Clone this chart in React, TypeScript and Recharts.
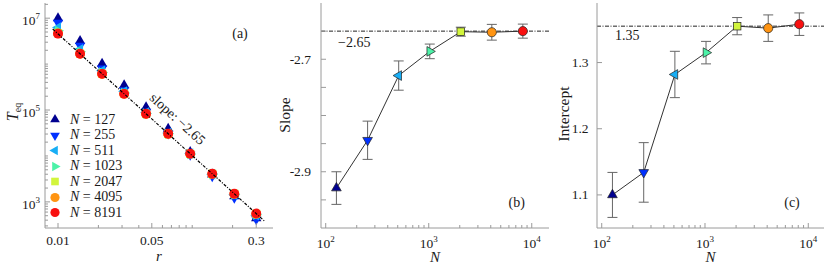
import React from 'react';
import { ComposedChart, Scatter, Line, XAxis, YAxis, ErrorBar, ReferenceLine, Legend } from 'recharts';

// system sizes and marker styles
const sizes = [127, 255, 511, 1023, 2047, 4095, 8191];
const colors = ['#000090', '#0030ff', '#18aef5', '#4cf2a8', '#d2f53c', '#ff9412', '#f81010'];
const kinds = ['up', 'down', 'left', 'right', 'square', 'circle', 'circle'];

// panel (a): T_eq vs r
const rValues = [0.01, 0.0146, 0.0213, 0.0311, 0.0453, 0.0662, 0.0966, 0.141, 0.206, 0.3];
const teq127 = [1.0e7, 3.2e6, 1.02e6, 3.45e5, 1.15e5, 3.9e4, 1.22e4, 3.95e3, 1.32e3, 440];
const teq255 = [8.0e6, 2.5e6, 8.0e5, 2.7e5, 9.2e4, 3.1e4, 1.06e4, 3.6e3, 1.23e3, 420];
const teq511 = [6.3e6, 2.1e6, 7.2e5, 2.55e5, 8.9e4, 3.15e4, 1.13e4, 4.0e3, 1.43e3, 510];
const teq1023 = [5.3e6, 1.85e6, 6.6e5, 2.35e5, 8.4e4, 3.05e4, 1.1e4, 4.0e3, 1.45e3, 525];
const teq2047 = [4.75e6, 1.7e6, 6.2e5, 2.27e5, 8.3e4, 3.03e4, 1.11e4, 4.08e3, 1.5e3, 550];
const teq4095 = [4.65e6, 1.68e6, 6.1e5, 2.24e5, 8.2e4, 3.02e4, 1.11e4, 4.06e3, 1.49e3, 548];
const teq8191 = [4.6e6, 1.68e6, 6.15e5, 2.25e5, 8.3e4, 3.04e4, 1.12e4, 4.1e3, 1.51e3, 560];
const teqSeries = [teq127, teq255, teq511, teq1023, teq2047, teq4095, teq8191];
const fitR = [0.00913, 0.349];
const fitT = [5.8e6, 372];

// panel (b) and (c): fitted slope / intercept vs N
const slopes = [-2.929, -2.844, -2.729, -2.686, -2.651, -2.652, -2.65];
const slopeErr = [0.029, 0.034, 0.026, 0.013, 0.008, 0.014, 0.0125];
const intercepts = [1.1, 1.134, 1.282, 1.315, 1.355, 1.352, 1.358];
const interceptErr = [0.034, 0.045, 0.035, 0.017, 0.013, 0.02, 0.017];

// ticks
const rTicks = [0.01, 0.02, 0.03, 0.04, 0.05, 0.06, 0.07, 0.08, 0.09, 0.1, 0.2, 0.3];
const rLabels = [0.01, 0.05, 0.3];
const teqTicks = [
  300, 400, 500, 600, 700, 800, 900,
  1e3, 2e3, 3e3, 4e3, 5e3, 6e3, 7e3, 8e3, 9e3,
  1e4, 2e4, 3e4, 4e4, 5e4, 6e4, 7e4, 8e4, 9e4,
  1e5, 2e5, 3e5, 4e5, 5e5, 6e5, 7e5, 8e5, 9e5,
  1e6, 2e6, 3e6, 4e6, 5e6, 6e6, 7e6, 8e6, 9e6,
  1e7, 2e7,
];
const teqLabels = [1e3, 1e5, 1e7];
const nTicks = [100, 200, 300, 400, 500, 600, 700, 800, 900, 1000, 2000, 3000, 4000, 5000, 6000, 7000, 8000, 9000, 10000];
const nLabels = [100, 1000, 10000];
const slopeTicks = [-2.95, -2.9, -2.85, -2.8, -2.75, -2.7, -2.65];
const slopeLabels = [-2.9, -2.7];
const interceptTicks = [1.1, 1.2, 1.3];

const AXIS = '#9a9a9a';
const INK = '#1a1a1a';
const FONT = '"Liberation Serif", "DejaVu Serif", serif';
const serif = { fontFamily: FONT };

const Marker = ({ kind, cx, cy, s, fill, stroke }: any) => {
  const common = { fill, stroke: stroke || 'none', strokeWidth: stroke ? 0.7 : 0 };
  if (kind === 'circle') return <circle cx={cx} cy={cy} r={s * 0.82} {...common} />;
  if (kind === 'square') return <rect x={cx - s * 0.68} y={cy - s * 0.68} width={s * 1.36} height={s * 1.36} {...common} />;
  const pts: Record<string, number[][]> = {
    up: [[0, -1], [0.866, 0.5], [-0.866, 0.5]],
    down: [[0, 1], [0.866, -0.5], [-0.866, -0.5]],
    left: [[-1, 0], [0.5, 0.866], [0.5, -0.866]],
    right: [[1, 0], [-0.5, 0.866], [-0.5, -0.866]],
  };
  return <polygon points={pts[kind].map(([a, b]) => `${cx + a * s},${cy + b * s}`).join(' ')} {...common} />;
};

const pow10 = (v: number) => (
  <>
    <tspan>10</tspan>
    <tspan fontSize={9} dy={-6}>{Math.round(Math.log10(v))}</tspan>
  </>
);

const near = (list: number[], v: number) => list.some((t) => Math.abs(t - v) < 1e-9 * Math.max(1, Math.abs(t)));

const bottomTick = (labels: number[], fmt: (v: number) => any, dy: number) => (p: any) => {
  const v = p.payload.value;
  const major = near(labels, v);
  return (
    <g>
      <line x1={p.x} x2={p.x} y1={p.y} y2={p.y - (major ? 5 : 3)} stroke={AXIS} />
      {major && (
        <text x={p.x} y={p.y + dy} textAnchor="middle" fontSize={13.5} style={serif} fill={INK}>
          {fmt(v)}
        </text>
      )}
    </g>
  );
};

const topTick = (labels: number[]) => (p: any) => {
  const major = near(labels, p.payload.value);
  return <line x1={p.x} x2={p.x} y1={p.y} y2={p.y + (major ? 5 : 3)} stroke={AXIS} />;
};

const leftTick = (labels: number[], fmt: (v: number) => any, gap: number, dy: number) => (p: any) => {
  const v = p.payload.value;
  const major = near(labels, v);
  return (
    <g>
      <line x1={p.x} x2={p.x + (major ? 5 : 3)} y1={p.y} y2={p.y} stroke={AXIS} />
      {major && (
        <text x={p.x - gap} y={p.y + dy} textAnchor="end" fontSize={13.5} style={serif} fill={INK}>
          {fmt(v)}
        </text>
      )}
    </g>
  );
};

const rightTick = (labels: number[]) => (p: any) => {
  const major = near(labels, p.payload.value);
  return <line x1={p.x} x2={p.x - (major ? 5 : 3)} y1={p.y} y2={p.y} stroke={AXIS} />;
};

const LegendBox = () => (
  <div style={{ fontFamily: FONT, fontSize: 14, color: INK }}>
    {sizes.map((n, i) => (
      <div key={n} style={{ display: 'flex', alignItems: 'center', height: 15.5 }}>
        <svg width={16} height={15} style={{ display: 'block' }}>
          <Marker kind={kinds[i]} cx={8} cy={7.5} s={5.6} fill={colors[i]} />
        </svg>
        <span style={{ marginLeft: 7, whiteSpace: 'nowrap' }}>
          <i>N</i> = {n}
        </span>
      </div>
    ))}
  </div>
);

const PanelA = () => {
  const fitData = fitR.map((r, i) => ({ r, T: fitT[i] }));
  return (
    <ComposedChart width={280} height={267} margin={{ top: 3, right: 7, left: 0, bottom: 0 }}>
      <XAxis xAxisId="b" type="number" dataKey="r" scale="log" domain={[0.008, 0.4]} allowDataOverflow
        ticks={rTicks} interval={0} height={39} tickSize={0} tickMargin={0} tickLine={false}
        axisLine={{ stroke: AXIS }} tick={bottomTick(rLabels, (v) => String(v), 17)} />
      <XAxis xAxisId="t" orientation="top" type="number" dataKey="r" scale="log" domain={[0.008, 0.4]} allowDataOverflow
        ticks={rTicks} interval={0} height={0} tickSize={0} tickMargin={0} tickLine={false}
        axisLine={{ stroke: AXIS }} tick={topTick(rLabels)} />
      <YAxis yAxisId="l" type="number" dataKey="T" scale="log" domain={[270, 2.14e7]} allowDataOverflow
        ticks={teqTicks} interval={0} width={45} tickSize={0} tickMargin={0} tickLine={false}
        axisLine={{ stroke: AXIS }} tick={leftTick(teqLabels, pow10, 5, 7)} />
      <YAxis yAxisId="r" orientation="right" type="number" dataKey="T" scale="log" domain={[270, 2.14e7]} allowDataOverflow
        ticks={teqTicks} interval={0} width={0} tickSize={0} tickMargin={0} tickLine={false}
        axisLine={{ stroke: AXIS }} tick={rightTick(teqLabels)} />
      {teqSeries.map((vals, i) => (
        <Scatter key={sizes[i]} xAxisId="b" yAxisId="l" dataKey="T" name={`N = ${sizes[i]}`}
          data={rValues.map((r, k) => ({ r, T: vals[k] }))} isAnimationActive={false}
          shape={(p: any) => <Marker kind={kinds[i]} cx={p.cx} cy={p.cy} s={6} fill={colors[i]} />} />
      ))}
      <Scatter xAxisId="b" yAxisId="l" dataKey="T" data={fitData} isAnimationActive={false}
        line={{ stroke: '#000', strokeWidth: 1.2, strokeDasharray: '3 1.5 1 1.5' }} shape={() => <g />} legendType="none" />
      <Legend layout="vertical" align="center" verticalAlign="middle"
        wrapperStyle={{ left: 47, top: 112, width: 'auto' }} content={LegendBox} />
    </ComposedChart>
  );
};

const FitPanel = ({ values, errs, domain, yTicks, yLabels, yGap, xDomain, width, yWidth, right, refY }: any) => {
  const data = sizes.map((N, i) => ({ N, v: values[i], e: errs[i] }));
  const fmt = (v: number) => v.toFixed(1);
  return (
    <ComposedChart width={width} height={267} data={data} margin={{ top: 3, right, left: 0, bottom: 0 }}>
      <XAxis xAxisId="b" type="number" dataKey="N" scale="log" domain={xDomain} allowDataOverflow
        ticks={nTicks} interval={0} height={39} tickSize={0} tickMargin={0} tickLine={false}
        axisLine={{ stroke: AXIS }} tick={bottomTick(nLabels, pow10, 20)} />
      <XAxis xAxisId="t" orientation="top" type="number" dataKey="N" scale="log" domain={xDomain} allowDataOverflow
        ticks={nTicks} interval={0} height={0} tickSize={0} tickMargin={0} tickLine={false}
        axisLine={{ stroke: AXIS }} tick={topTick(nLabels)} />
      <YAxis yAxisId="l" type="number" domain={domain} allowDataOverflow ticks={yTicks} interval={0}
        width={yWidth} tickSize={0} tickMargin={0} tickLine={false} axisLine={{ stroke: AXIS }}
        tick={leftTick(yTicks, (v) => (near(yLabels, v) ? fmt(v) : ''), yGap, 4.5)} />
      <YAxis yAxisId="r" orientation="right" type="number" domain={domain} allowDataOverflow ticks={yTicks} interval={0}
        width={0} tickSize={0} tickMargin={0} tickLine={false} axisLine={{ stroke: AXIS }}
        tick={rightTick(yTicks)} />
      <ReferenceLine xAxisId="b" yAxisId="l" y={refY} stroke="#222" strokeWidth={1} strokeDasharray="4 1.5 1 1.5" />
      <Line xAxisId="b" yAxisId="l" dataKey="v" stroke="#333" strokeWidth={1} isAnimationActive={false}
        dot={(p: any) => (
          <Marker key={p.index} kind={kinds[p.index]} cx={p.cx} cy={p.cy} s={5.6} fill={colors[p.index]} stroke="#222" />
        )}
        activeDot={false}>
        <ErrorBar dataKey="e" width={5} stroke="#666" strokeWidth={1} direction="y" />
      </Line>
    </ComposedChart>
  );
};

const txt = { style: serif, fill: INK };

export default function App() {
  return (
    <div style={{ position: 'absolute', left: 0, top: 0, width: 830, height: 267, background: '#fff' }}>
      <div style={{ position: 'absolute', left: 0, top: 0 }}>
        <PanelA />
      </div>
      <div style={{ position: 'absolute', left: 280, top: 0 }}>
        <FitPanel values={slopes} errs={slopeErr} domain={[-3.0, -2.6]} yTicks={slopeTicks} yLabels={slopeLabels}
          yGap={10} xDomain={[90, 14700]} width={276} yWidth={41} right={7} refY={-2.65} />
      </div>
      <div style={{ position: 'absolute', left: 556, top: 0 }}>
        <FitPanel values={intercepts} errs={interceptErr} domain={[1.05, 1.39]} yTicks={interceptTicks}
          yLabels={interceptTicks} yGap={8.5} xDomain={[90, 14200]} width={274} yWidth={41} right={6} refY={1.355} />
      </div>
      <svg width={830} height={267} style={{ position: 'absolute', left: 0, top: 0, pointerEvents: 'none' }}>
        {/* axis titles */}
        <text x={18} y={112} transform="rotate(-90 18 112)" textAnchor="middle" fontSize={16} {...txt}>
          <tspan fontStyle="italic">T</tspan>
          <tspan fontSize={10} dy={3}>eq</tspan>
        </text>
        <text x={159} y={261} textAnchor="middle" fontSize={15} fontStyle="italic" {...txt}>r</text>
        <text x={290} y={115} transform="rotate(-90 290 115)" textAnchor="middle" fontSize={15.5} {...txt}>Slope</text>
        <text x={435} y={262} textAnchor="middle" fontSize={15} fontStyle="italic" {...txt}>N</text>
        <text x={569} y={114} transform="rotate(-90 569 114)" textAnchor="middle" fontSize={15.5} {...txt}>Intercept</text>
        <text x={710.5} y={262} textAnchor="middle" fontSize={15} fontStyle="italic" {...txt}>N</text>
        {/* annotations */}
        <text x={240} y={38} textAnchor="middle" fontSize={14} {...txt}>(a)</text>
        <text x={516.7} y={206.5} textAnchor="middle" fontSize={14} {...txt}>(b)</text>
        <text x={792} y={207} textAnchor="middle" fontSize={14} {...txt}>(c)</text>
        <text x={177.5} y={119} transform="rotate(42.3 177.5 119)" textAnchor="middle" dominantBaseline="central" fontSize={14} {...txt}>
          slope: −2.65
        </text>
        <text x={338} y={47} fontSize={14} {...txt}>−2.65</text>
        <text x={615} y={40} fontSize={14} {...txt}>1.35</text>
      </svg>
    </div>
  );
}
